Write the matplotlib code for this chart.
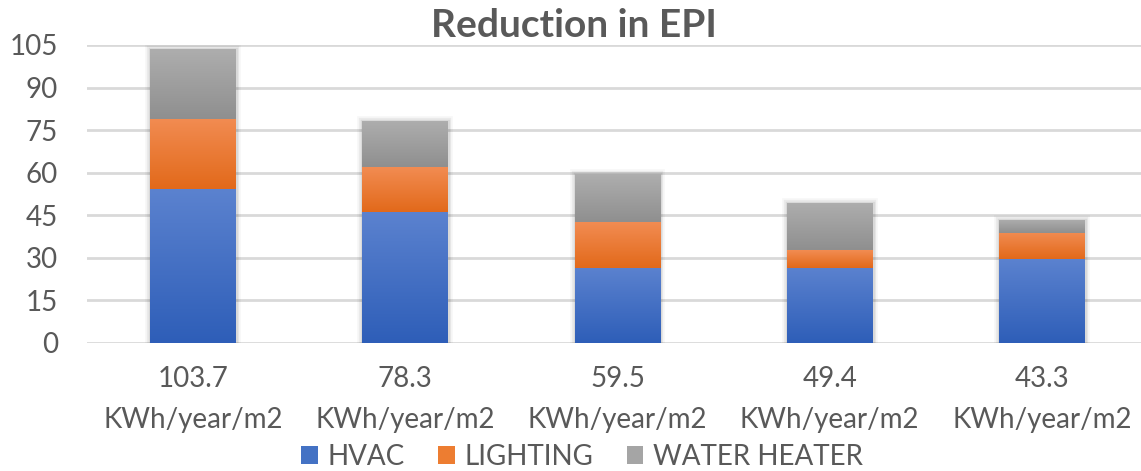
import numpy as np
import matplotlib.pyplot as plt
from matplotlib.colors import LinearSegmentedColormap
from matplotlib.patches import Patch

# EPI breakdown per scenario (KWh/year/m2)
categories = ["103.7\nKWh/year/m2", "78.3\nKWh/year/m2", "59.5\nKWh/year/m2",
              "49.4\nKWh/year/m2", "43.3\nKWh/year/m2"]
hvac = [54.1, 46.2, 26.5, 26.5, 29.5]
lighting = [24.8, 15.8, 16.1, 6.2, 9.2]
water_heater = [24.8, 16.3, 16.9, 16.7, 4.6]
series_names = ["HVAC", "LIGHTING", "WATER HEATER"]
yticks = [0, 15, 30, 45, 60, 75, 90, 105]

# gradient (top colour, bottom colour) for each series
gradients = [("#5B82CF", "#2E5EB8"),
             ("#F28C52", "#E2691A"),
             ("#AEAEAE", "#8F8F8F")]
legend_colors = ["#4472C4", "#ED7D31", "#A5A5A5"]

txt = "#595959"
plt.rcParams['font.family'] = ['Lato', 'DejaVu Sans']

fig = plt.figure(figsize=(11.41, 4.71), dpi=100)
ax = fig.add_axes([0.0763, 0.2724, 0.9237, 0.6321])

x = np.arange(len(categories))
width = 0.405
bottom = np.zeros(len(categories))
grad = np.linspace(0, 1, 256).reshape(-1, 1)

# soft shadow around every stacked bar
totals = np.array(hvac) + np.array(lighting) + np.array(water_heater)
for lw, a in [(7, 0.03), (4.5, 0.05), (2.5, 0.07)]:
    ax.bar(x, totals, width, color="none", edgecolor="black", linewidth=lw,
           alpha=a, zorder=1.5)
ax.bar(x, totals, width, color="white", zorder=1.6)

for vals, (c_top, c_bot) in zip([hvac, lighting, water_heater], gradients):
    cmap = LinearSegmentedColormap.from_list("g", [c_bot, c_top])
    bars = ax.bar(x, vals, width, bottom=bottom, color="none", zorder=2)
    for rect in bars:
        x0, y0 = rect.get_x(), rect.get_y()
        im = ax.imshow(grad, cmap=cmap, origin="lower", aspect="auto",
                       extent=(x0, x0 + rect.get_width(), y0, y0 + rect.get_height()),
                       zorder=2)
        im.set_clip_path(rect)
    bottom += np.array(vals)

ax.set_xlim(-0.5, 4.467)
ax.set_ylim(0, 105)
ax.set_yticks(yticks)
ax.set_xticks(x)
ax.set_xticklabels(categories, linespacing=1.7)
ax.tick_params(axis="both", length=0, labelsize=20, labelcolor=txt)
ax.tick_params(axis="x", pad=17)
ax.tick_params(axis="y", pad=21)
ax.grid(axis="y", color="#D9D9D9", linewidth=2)
ax.set_axisbelow(True)
for s in ax.spines.values():
    s.set_visible(False)

fig.text(0.503, 0.945, "Reduction in EPI", ha="center", va="center",
         fontsize=28, fontweight="bold", color=txt)

handles = [Patch(facecolor=c, edgecolor="none") for c in legend_colors]
fig.legend(handles, series_names, loc="center", bbox_to_anchor=(0.51, 0.03),
           ncol=3, frameon=False, fontsize=20, labelcolor=txt,
           handlelength=0.6, handleheight=0.6, handletextpad=0.35,
           columnspacing=1.2, borderpad=0)

fig.savefig("out.png", dpi=100)
